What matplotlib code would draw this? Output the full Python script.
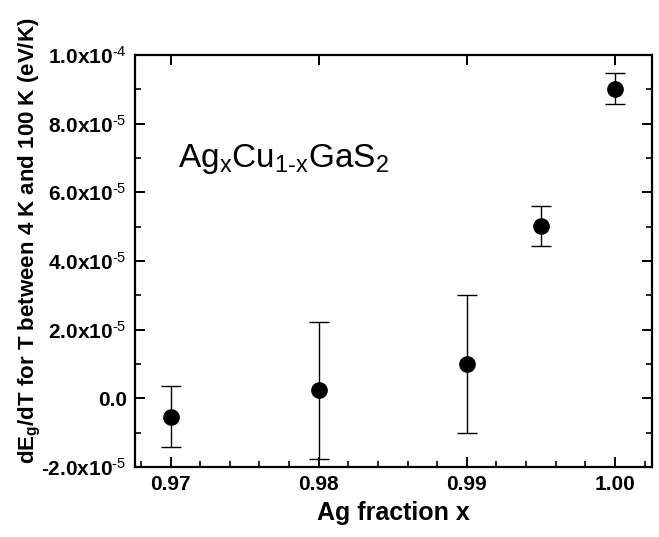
import matplotlib
matplotlib.use("Agg")
import matplotlib.pyplot as plt
from matplotlib.ticker import MultipleLocator

plt.rcParams['font.family'] = ['Liberation Sans', 'DejaVu Sans']
plt.rcParams['mathtext.fontset'] = 'custom'
plt.rcParams['mathtext.rm'] = 'Liberation Sans'
plt.rcParams['mathtext.it'] = 'Liberation Sans:italic'
plt.rcParams['mathtext.bf'] = 'Liberation Sans:bold'

# Data
ag_fraction = [0.970, 0.980, 0.990, 0.995, 1.000]
dEg_dT = [-5.3e-6, 2.3e-6, 1.0e-5, 5.02e-5, 9.02e-5]
err = [8.9e-6, 2.0e-5, 2.0e-5, 5.7e-6, 4.6e-6]
x_ticks = [0.97, 0.98, 0.99, 1.00]
x_tick_labels = ["0.97", "0.98", "0.99", "1.00"]
y_ticks = [-2e-5, 0.0, 2e-5, 4e-5, 6e-5, 8e-5, 1e-4]
y_tick_labels = [r"-2.0x10$^{\text{-5}}$", "0.0", r"2.0x10$^{\text{-5}}$", r"4.0x10$^{\text{-5}}$",
                 r"6.0x10$^{\text{-5}}$", r"8.0x10$^{\text{-5}}$", r"1.0x10$^{\text{-4}}$"]

fig = plt.figure(figsize=(6.59, 5.37), dpi=100)
ax = fig.add_axes([0.2049, 0.1304, 0.7845, 0.7672])

ax.errorbar(ag_fraction, dEg_dT, yerr=err, fmt='o', color='black',
            markersize=11, ecolor='black', elinewidth=1.0, capsize=7, capthick=1.0)

ax.set_xlim(0.9676, 1.0025)
ax.set_ylim(-2e-5, 1e-4)

ax.set_xticks(x_ticks)
ax.set_xticklabels(x_tick_labels)
ax.xaxis.set_minor_locator(MultipleLocator(0.002))
ax.set_yticks(y_ticks)
ax.set_yticklabels(y_tick_labels)
ax.yaxis.set_minor_locator(MultipleLocator(1e-5))

for s in ax.spines.values():
    s.set_linewidth(1.6)

ax.tick_params(axis='both', which='major', direction='in', length=7, width=1.4,
               labelsize=15, top=True, right=True, pad=6)
ax.tick_params(axis='both', which='minor', direction='in', length=4, width=1.2,
               top=False, right=True)
for lab in ax.get_xticklabels() + ax.get_yticklabels():
    lab.set_fontweight('bold')

ax.set_xlabel("Ag fraction x", fontsize=18, fontweight='bold', labelpad=5)
ax.set_ylabel(r"dE$_\mathbf{g}$/dT for T between 4 K and 100 K (eV/K)",
              fontsize=16, fontweight='bold')
ax.yaxis.set_label_coords(-0.178, 0.55)

ax.text(0.083, 0.728,
        r"Ag$_\mathregular{x}$Cu$_{\text{1-x}}$GaS$_\mathregular{2}$",
        transform=ax.transAxes, fontsize=24, va='baseline', ha='left')

fig.savefig("out.png", dpi=100)
